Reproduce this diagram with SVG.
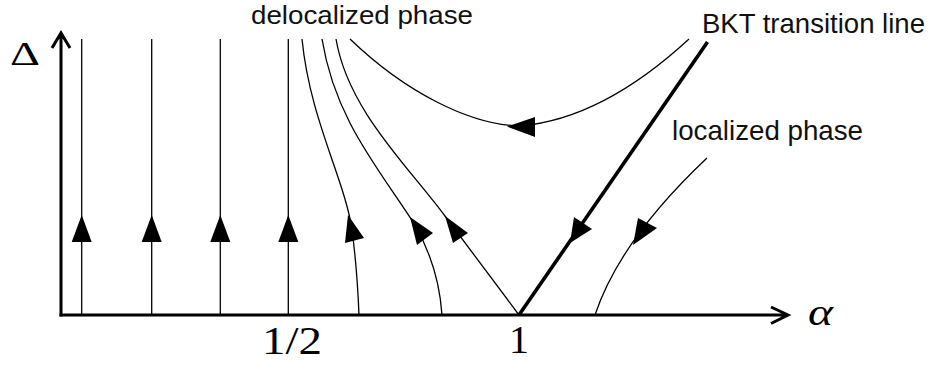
<svg xmlns="http://www.w3.org/2000/svg" width="930" height="371" viewBox="0 0 930 371">
<style>
.ax{stroke:#000;stroke-width:3;fill:none}
.fl{stroke:#000;stroke-width:1.3;fill:none}
.bkt{stroke:#000;stroke-width:3.6;fill:none}
.ah{fill:#000;stroke:none}
.lab{font-family:"Liberation Sans",Arial,sans-serif;font-size:27.5px;fill:#111}
.math{font-family:"Liberation Serif","DejaVu Serif",serif;fill:#000}
</style>
<rect width="930" height="371" fill="#fff"/>
<g id="axes">
<path class="ax" d="M61,316.5 L61,34 M52,48 L61,33 L70,48"/>
<path class="ax" d="M59.5,315 L787,315 M771,307 L788,315 L771,323.5"/>
<text class="math" x="10" y="65" font-size="34" textLength="30" lengthAdjust="spacingAndGlyphs">Δ</text>
<text class="math" x="808" y="325" font-size="38" font-style="italic" textLength="25" lengthAdjust="spacingAndGlyphs">α</text>
<text class="math" x="292" y="354" font-size="40" text-anchor="middle" textLength="60" lengthAdjust="spacingAndGlyphs">1/2</text>
<text class="math" x="519" y="353" font-size="40" text-anchor="middle">1</text>
</g>
<g id="flows">
<path class="fl" d="M81.7,39 L81.7,315"/>
<path class="fl" d="M151.7,39 L151.7,315"/>
<path class="fl" d="M220.3,39 L220.3,315"/>
<path class="fl" d="M288.3,39 L288.3,315"/>
<path class="fl" d="M302,39 C310,120 345,180 352,230 C356,260 358,290 359,315"/>
<path class="fl" d="M322,39 C335,120 380,170 415,225 C432,255 440,285 442,315"/>
<path class="fl" d="M336,39 C348,110 408,166 445,216 L519,315"/>
<path class="fl" d="M350,39 C405,92 470,125 520,126 C590,120 650,75 689,39"/>
<path class="fl" d="M707,158 Q620,240 595,315"/>
</g>
<g id="bkt-line">
<path class="bkt" d="M519,315 L707.5,42"/>
</g>
<g id="arrowheads">
<polygon class="ah" points="81.7,215 71.7,242 91.7,242"/>
<polygon class="ah" points="151.7,215 141.7,242 161.7,242"/>
<polygon class="ah" points="220.3,215 210.3,242 230.3,242"/>
<polygon class="ah" points="288.3,215 278.3,242 298.3,242"/>
<polygon class="ah" points="348,215 345,243 364,238"/>
<polygon class="ah" points="410,217 417,245 433,233"/>
<polygon class="ah" points="445,216 453,243 468,233"/>
<polygon class="ah" points="507,126.5 535,117 535,137"/>
<polygon class="ah" points="570,243 574,217 592,229"/>
<polygon class="ah" points="633,245 638,218 657,228"/>
</g>
<g id="labels">
<text class="lab" x="251" y="24" font-size="26" style="font-size:26px" textLength="222" lengthAdjust="spacingAndGlyphs">delocalized phase</text>
<text class="lab" x="702" y="33" textLength="223" lengthAdjust="spacingAndGlyphs">BKT transition line</text>
<text class="lab" x="672" y="140" textLength="191" lengthAdjust="spacingAndGlyphs">localized phase</text>
</g>
</svg>
